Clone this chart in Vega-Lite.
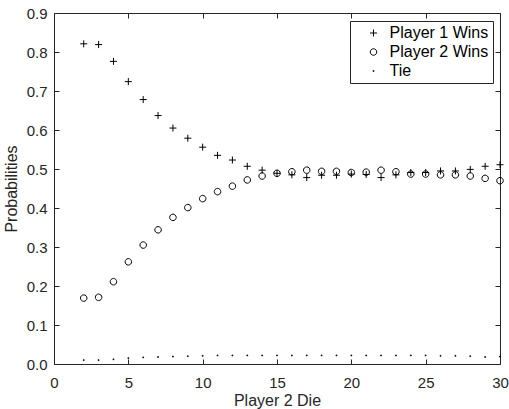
{
  "$schema": "https://vega.github.io/schema/vega-lite/v6.json",
  "width": 446,
  "height": 351,
  "autosize": "none",
  "padding": {"left": 54, "top": 13, "right": 9, "bottom": 45},
  "background": "white",
  "config": {
    "view": {"stroke": null},
    "font": "Liberation Sans",
    "axis": {
      "grid": false,
      "domainColor": "#262626",
      "tickColor": "#262626",
      "labelColor": "#262626",
      "titleColor": "#262626",
      "labelFont": "Liberation Sans",
      "titleFont": "Liberation Sans",
      "labelFontSize": 15,
      "titleFontSize": 16,
      "titleFontWeight": "normal",
      "tickSize": -5,
      "domainWidth": 1,
      "tickWidth": 1,
      "labelFlush": false
    },
    "legend": {
      "orient": "none",
      "legendX": 296,
      "legendY": 8,
      "strokeColor": "#262626",
      "fillColor": "white",
      "padding": 4,
      "rowPadding": 3,
      "labelFont": "Liberation Sans",
      "labelFontSize": 16,
      "labelColor": "black",
      "symbolStrokeColor": "black",
      "symbolStrokeWidth": 1,
      "symbolSize": 49,
      "symbolOffset": 11.5,
      "labelOffset": 8
    }
  },
  "data": {
    "values": [
      {"die": 2, "series": "Player 1 Wins", "p": 0.821},
      {"die": 3, "series": "Player 1 Wins", "p": 0.819},
      {"die": 4, "series": "Player 1 Wins", "p": 0.776},
      {"die": 5, "series": "Player 1 Wins", "p": 0.724},
      {"die": 6, "series": "Player 1 Wins", "p": 0.678},
      {"die": 7, "series": "Player 1 Wins", "p": 0.637},
      {"die": 8, "series": "Player 1 Wins", "p": 0.605},
      {"die": 9, "series": "Player 1 Wins", "p": 0.579},
      {"die": 10, "series": "Player 1 Wins", "p": 0.556},
      {"die": 11, "series": "Player 1 Wins", "p": 0.535},
      {"die": 12, "series": "Player 1 Wins", "p": 0.523},
      {"die": 13, "series": "Player 1 Wins", "p": 0.507},
      {"die": 14, "series": "Player 1 Wins", "p": 0.497},
      {"die": 15, "series": "Player 1 Wins", "p": 0.489},
      {"die": 16, "series": "Player 1 Wins", "p": 0.485},
      {"die": 17, "series": "Player 1 Wins", "p": 0.478},
      {"die": 18, "series": "Player 1 Wins", "p": 0.484},
      {"die": 19, "series": "Player 1 Wins", "p": 0.484},
      {"die": 20, "series": "Player 1 Wins", "p": 0.487},
      {"die": 21, "series": "Player 1 Wins", "p": 0.486},
      {"die": 22, "series": "Player 1 Wins", "p": 0.478},
      {"die": 23, "series": "Player 1 Wins", "p": 0.485},
      {"die": 24, "series": "Player 1 Wins", "p": 0.491},
      {"die": 25, "series": "Player 1 Wins", "p": 0.491},
      {"die": 26, "series": "Player 1 Wins", "p": 0.495},
      {"die": 27, "series": "Player 1 Wins", "p": 0.495},
      {"die": 28, "series": "Player 1 Wins", "p": 0.499},
      {"die": 29, "series": "Player 1 Wins", "p": 0.507},
      {"die": 30, "series": "Player 1 Wins", "p": 0.511},
      {"die": 2, "series": "Player 2 Wins", "p": 0.169},
      {"die": 3, "series": "Player 2 Wins", "p": 0.171},
      {"die": 4, "series": "Player 2 Wins", "p": 0.211},
      {"die": 5, "series": "Player 2 Wins", "p": 0.262},
      {"die": 6, "series": "Player 2 Wins", "p": 0.305},
      {"die": 7, "series": "Player 2 Wins", "p": 0.344},
      {"die": 8, "series": "Player 2 Wins", "p": 0.376},
      {"die": 9, "series": "Player 2 Wins", "p": 0.401},
      {"die": 10, "series": "Player 2 Wins", "p": 0.424},
      {"die": 11, "series": "Player 2 Wins", "p": 0.442},
      {"die": 12, "series": "Player 2 Wins", "p": 0.456},
      {"die": 13, "series": "Player 2 Wins", "p": 0.472},
      {"die": 14, "series": "Player 2 Wins", "p": 0.482},
      {"die": 15, "series": "Player 2 Wins", "p": 0.489},
      {"die": 16, "series": "Player 2 Wins", "p": 0.493},
      {"die": 17, "series": "Player 2 Wins", "p": 0.497},
      {"die": 18, "series": "Player 2 Wins", "p": 0.494},
      {"die": 19, "series": "Player 2 Wins", "p": 0.494},
      {"die": 20, "series": "Player 2 Wins", "p": 0.491},
      {"die": 21, "series": "Player 2 Wins", "p": 0.492},
      {"die": 22, "series": "Player 2 Wins", "p": 0.497},
      {"die": 23, "series": "Player 2 Wins", "p": 0.493},
      {"die": 24, "series": "Player 2 Wins", "p": 0.487},
      {"die": 25, "series": "Player 2 Wins", "p": 0.487},
      {"die": 26, "series": "Player 2 Wins", "p": 0.485},
      {"die": 27, "series": "Player 2 Wins", "p": 0.485},
      {"die": 28, "series": "Player 2 Wins", "p": 0.482},
      {"die": 29, "series": "Player 2 Wins", "p": 0.476},
      {"die": 30, "series": "Player 2 Wins", "p": 0.470},
      {"die": 2, "series": "Tie", "p": 0.010},
      {"die": 3, "series": "Tie", "p": 0.010},
      {"die": 4, "series": "Tie", "p": 0.012},
      {"die": 5, "series": "Tie", "p": 0.015},
      {"die": 6, "series": "Tie", "p": 0.017},
      {"die": 7, "series": "Tie", "p": 0.018},
      {"die": 8, "series": "Tie", "p": 0.019},
      {"die": 9, "series": "Tie", "p": 0.020},
      {"die": 10, "series": "Tie", "p": 0.021},
      {"die": 11, "series": "Tie", "p": 0.022},
      {"die": 12, "series": "Tie", "p": 0.022},
      {"die": 13, "series": "Tie", "p": 0.022},
      {"die": 14, "series": "Tie", "p": 0.022},
      {"die": 15, "series": "Tie", "p": 0.022},
      {"die": 16, "series": "Tie", "p": 0.022},
      {"die": 17, "series": "Tie", "p": 0.022},
      {"die": 18, "series": "Tie", "p": 0.022},
      {"die": 19, "series": "Tie", "p": 0.022},
      {"die": 20, "series": "Tie", "p": 0.022},
      {"die": 21, "series": "Tie", "p": 0.022},
      {"die": 22, "series": "Tie", "p": 0.022},
      {"die": 23, "series": "Tie", "p": 0.022},
      {"die": 24, "series": "Tie", "p": 0.022},
      {"die": 25, "series": "Tie", "p": 0.022},
      {"die": 26, "series": "Tie", "p": 0.021},
      {"die": 27, "series": "Tie", "p": 0.021},
      {"die": 28, "series": "Tie", "p": 0.020},
      {"die": 29, "series": "Tie", "p": 0.018},
      {"die": 30, "series": "Tie", "p": 0.019}
    ]
  },
  "layer": [
    {
      "mark": {"type": "point", "filled": false, "color": "black", "strokeWidth": 1, "opacity": 1, "size": 49},
      "encoding": {
        "x": {
          "field": "die", "type": "quantitative",
          "scale": {"domain": [0, 30], "nice": false, "zero": false},
          "axis": {"orient": "bottom", "title": "Player 2 Die", "values": [0, 5, 10, 15, 20, 25, 30], "labelPadding": 16, "titlePadding": 2}
        },
        "y": {
          "field": "p", "type": "quantitative",
          "scale": {"domain": [0, 0.9], "nice": false},
          "axis": {"orient": "left", "title": "Probabilities", "values": [0, 0.1, 0.2, 0.3, 0.4, 0.5, 0.6, 0.7, 0.8, 0.9], "labelPadding": 12, "titlePadding": 7}
        },
        "shape": {
          "field": "series", "type": "nominal",
          "scale": {"domain": ["Player 1 Wins", "Player 2 Wins", "Tie"], "range": ["M-1,0H1M0,-1V1", "M0.93,0A0.93,0.93 0 1,1 -0.93,0A0.93,0.93 0 1,1 0.93,0Z", "M-0.12,-0.12H0.12V0.12H-0.12Z"]},
          "legend": {"title": null}
        }
      }
    },
    {
      "mark": {"type": "point", "opacity": 0},
      "encoding": {
        "x": {
          "field": "die", "type": "quantitative",
          "axis": {"orient": "top", "title": null, "labels": false, "values": [0, 5, 10, 15, 20, 25, 30]}
        },
        "y": {
          "field": "p", "type": "quantitative",
          "axis": {"orient": "right", "title": null, "labels": false, "values": [0, 0.1, 0.2, 0.3, 0.4, 0.5, 0.6, 0.7, 0.8, 0.9]}
        }
      }
    }
  ],
  "resolve": {"axis": {"x": "independent", "y": "independent"}}
}
